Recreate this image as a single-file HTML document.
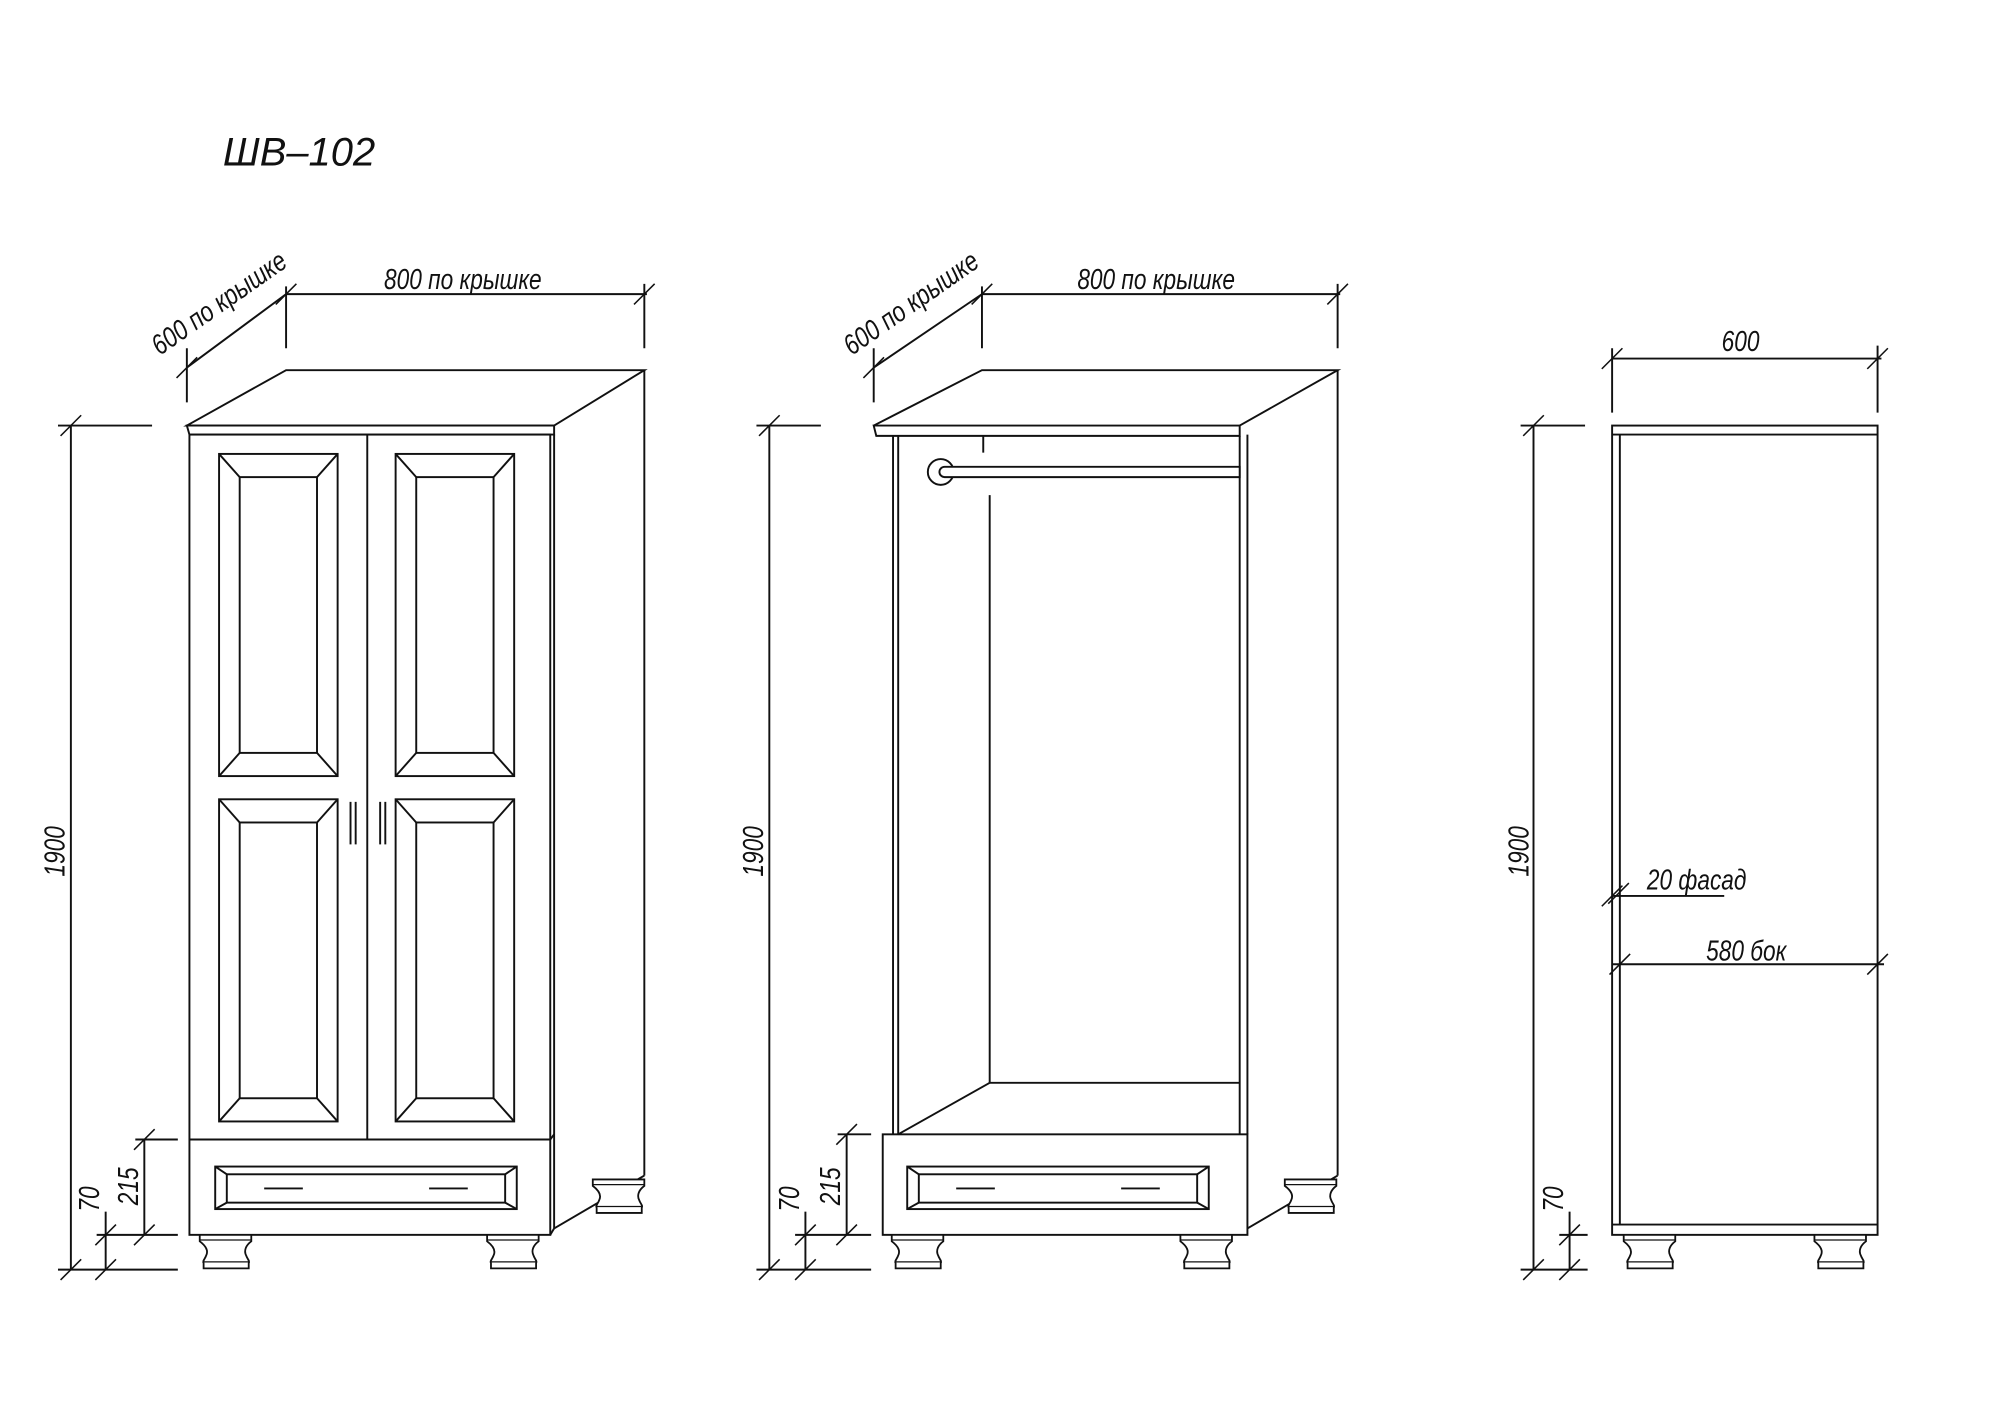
<!DOCTYPE html>
<html><head><meta charset="utf-8"><style>
html,body{margin:0;padding:0;background:#fff;}
svg{display:block}
text{font-family:"Liberation Sans",sans-serif;font-style:italic;fill:#111;}
</style></head><body>
<svg width="2000" height="1413" viewBox="0 0 1552 1096" xmlns="http://www.w3.org/2000/svg">
<defs>
<g id="leg">
<path d="M0,0 L40,0 L40,5 C36,8 34,12 36,16 C37,19 39,20 38,22 L38,26 L3,26 L3,22 C2,20 4,19 5,16 C7,12 4,8 0,5 Z" fill="#fff" stroke="#111" stroke-width="1.4"/>
<line x1="3" y1="21" x2="38" y2="21" stroke="#111" stroke-width="1"/>
<line x1="0" y1="4" x2="40" y2="4" stroke="#111" stroke-width="1"/>
</g>
<g id="tick"><line x1="-8" y1="8" x2="8" y2="-8" stroke="#111" stroke-width="1.2"/></g>
</defs>
<text x="173" y="128" font-size="31">ШВ–102</text>

<g fill="none" stroke="#111" stroke-width="1.5">
<!-- ============ LEFT WARDROBE ============ -->
<path d="M145,330 L222,287 L500,287 L430,330 Z"/>
<path d="M145,330 L430,330 L430,337 L147,337 Z"/>
<rect x="147" y="337" width="280" height="621"/>
<line x1="430" y1="337" x2="430" y2="953"/>
<line x1="500" y1="287" x2="500" y2="912"/>
<line x1="430" y1="953" x2="500" y2="912"/>
<line x1="427" y1="958" x2="430" y2="953"/>
<line x1="285" y1="337" x2="285" y2="884"/>
<line x1="147" y1="884" x2="427" y2="884"/>
<line x1="427" y1="884" x2="430" y2="880"/>
<g id="pan">
<rect x="170" y="352" width="92" height="250"/>
<rect x="186" y="370" width="60" height="214"/>
<line x1="170" y1="352" x2="186" y2="370"/><line x1="262" y1="352" x2="246" y2="370"/>
<line x1="170" y1="602" x2="186" y2="584"/><line x1="262" y1="602" x2="246" y2="584"/>
</g>
<use href="#pan" y="268"/>
<use href="#pan" x="137"/>
<use href="#pan" x="137" y="268"/>
<line x1="272" y1="622" x2="272" y2="655"/><line x1="276" y1="622" x2="276" y2="655"/>
<line x1="295" y1="622" x2="295" y2="655"/><line x1="299" y1="622" x2="299" y2="655"/>
<g id="drw">
<rect x="167" y="905" width="234" height="33"/>
<rect x="176" y="911" width="216" height="22"/>
<line x1="167" y1="905" x2="176" y2="911"/><line x1="401" y1="905" x2="392" y2="911"/>
<line x1="167" y1="938" x2="176" y2="933"/><line x1="401" y1="938" x2="392" y2="933"/>
<line x1="205" y1="922" x2="235" y2="922"/><line x1="333" y1="922" x2="363" y2="922"/>
</g>
<use href="#leg" x="155" y="958"/>
<use href="#leg" x="378" y="958"/>
<use href="#leg" x="460" y="915"/>
<line x1="55" y1="330" x2="55" y2="985"/>
<line x1="45" y1="330" x2="118" y2="330"/>
<line x1="45" y1="985" x2="138" y2="985"/>
<line x1="75" y1="958" x2="138" y2="958"/>
<line x1="105" y1="884" x2="138" y2="884"/>
<line x1="82" y1="940" x2="82" y2="985"/>
<line x1="112" y1="884" x2="112" y2="958"/>
<use href="#tick" x="55" y="330"/><use href="#tick" x="55" y="985"/>
<use href="#tick" x="82" y="958"/><use href="#tick" x="82" y="985"/>
<use href="#tick" x="112" y="884"/><use href="#tick" x="112" y="958"/>
<line x1="222" y1="228" x2="502" y2="228"/>
<line x1="222" y1="222" x2="222" y2="270"/>
<line x1="500" y1="220" x2="500" y2="270"/>
<use href="#tick" x="222" y="228"/><use href="#tick" x="500" y="228"/>
<line x1="145" y1="270" x2="145" y2="312"/>
<line x1="145" y1="285" x2="222" y2="228"/>
<use href="#tick" x="145" y="285"/>

<!-- ============ MIDDLE WARDROBE ============ -->
<path d="M678,330 L762,287 L1038,287 L962,330"/>
<path d="M678,330 L962,330 L962,338 L680,338 Z"/>
<line x1="693" y1="338" x2="693" y2="880"/>
<line x1="697" y1="338" x2="697" y2="880"/>
<line x1="962" y1="338" x2="962" y2="880"/>
<line x1="968" y1="337" x2="968" y2="880"/>
<line x1="1038" y1="287" x2="1038" y2="912"/>
<line x1="768" y1="384" x2="768" y2="840"/>
<line x1="768" y1="840" x2="962" y2="840"/>
<line x1="697" y1="880" x2="768" y2="840"/>
<line x1="763" y1="338" x2="763" y2="351"/>
<circle cx="730" cy="366" r="10" fill="#fff"/>
<path d="M733,362 L962,362 L962,370 L733,370 A4,4 0 0 1 733,362 Z" fill="#fff"/>
<rect x="685" y="880" width="283" height="78"/>
<line x1="968" y1="953" x2="1038" y2="912"/>
<use href="#drw" x="537"/>
<use href="#leg" x="692" y="958"/>
<use href="#leg" x="916" y="958"/>
<use href="#leg" x="997" y="915"/>
<line x1="597" y1="330" x2="597" y2="985"/>
<line x1="587" y1="330" x2="637" y2="330"/>
<line x1="587" y1="985" x2="676" y2="985"/>
<line x1="617" y1="958" x2="676" y2="958"/>
<line x1="650" y1="880" x2="676" y2="880"/>
<line x1="625" y1="940" x2="625" y2="985"/>
<line x1="657" y1="880" x2="657" y2="958"/>
<use href="#tick" x="597" y="330"/><use href="#tick" x="597" y="985"/>
<use href="#tick" x="625" y="958"/><use href="#tick" x="625" y="985"/>
<use href="#tick" x="657" y="880"/><use href="#tick" x="657" y="958"/>
<line x1="762" y1="228" x2="1040" y2="228"/>
<line x1="762" y1="222" x2="762" y2="270"/>
<line x1="1038" y1="220" x2="1038" y2="270"/>
<use href="#tick" x="762" y="228"/><use href="#tick" x="1038" y="228"/>
<line x1="678" y1="270" x2="678" y2="312"/>
<line x1="678" y1="285" x2="762" y2="228"/>
<use href="#tick" x="678" y="285"/>

<!-- ============ RIGHT SIDE VIEW ============ -->
<rect x="1251" y="330" width="206" height="628"/>
<line x1="1251" y1="337" x2="1457" y2="337"/>
<line x1="1251" y1="950" x2="1457" y2="950"/>
<line x1="1257" y1="337" x2="1257" y2="950"/>
<use href="#leg" x="1260" y="958"/>
<use href="#leg" x="1408" y="958"/>
<line x1="1251" y1="278" x2="1460" y2="278"/>
<line x1="1251" y1="270" x2="1251" y2="320"/>
<line x1="1457" y1="268" x2="1457" y2="320"/>
<use href="#tick" x="1251" y="278"/><use href="#tick" x="1457" y="278"/>
<line x1="1190" y1="330" x2="1190" y2="985"/>
<line x1="1180" y1="330" x2="1230" y2="330"/>
<line x1="1180" y1="985" x2="1232" y2="985"/>
<line x1="1210" y1="958" x2="1232" y2="958"/>
<line x1="1218" y1="940" x2="1218" y2="985"/>
<use href="#tick" x="1190" y="330"/><use href="#tick" x="1190" y="985"/>
<use href="#tick" x="1218" y="958"/><use href="#tick" x="1218" y="985"/>
<line x1="1251" y1="695" x2="1338" y2="695"/>
<use href="#tick" x="1251" y="695"/><use href="#tick" x="1256" y="693"/>
<line x1="1251" y1="748" x2="1462" y2="748"/>
<use href="#tick" x="1257" y="748"/><use href="#tick" x="1457" y="748"/>
</g>

<g font-size="22">
<text transform="translate(298,224) scale(0.8,1)">800 по крышке</text>
<text transform="translate(836,224) scale(0.8,1)">800 по крышке</text>
<text transform="translate(124,276) rotate(-35) scale(0.8,1)">600 по крышке</text>
<text transform="translate(661,276) rotate(-35) scale(0.8,1)">600 по крышке</text>
<text transform="translate(1336,272) scale(0.8,1)">600</text>
<text transform="translate(50,680) rotate(-90) scale(0.8,1)">1900</text>
<text transform="translate(592,680) rotate(-90) scale(0.8,1)">1900</text>
<text transform="translate(1186,680) rotate(-90) scale(0.8,1)">1900</text>
<text transform="translate(77,940) rotate(-90) scale(0.8,1)">70</text>
<text transform="translate(107,935) rotate(-90) scale(0.8,1)">215</text>
<text transform="translate(620,940) rotate(-90) scale(0.8,1)">70</text>
<text transform="translate(652,935) rotate(-90) scale(0.8,1)">215</text>
<text transform="translate(1213,940) rotate(-90) scale(0.8,1)">70</text>
<text transform="translate(1278,690) scale(0.8,1)">20 фасад</text>
<text transform="translate(1324,745) scale(0.8,1)">580 бок</text>
</g>
</svg>
</body></html>
